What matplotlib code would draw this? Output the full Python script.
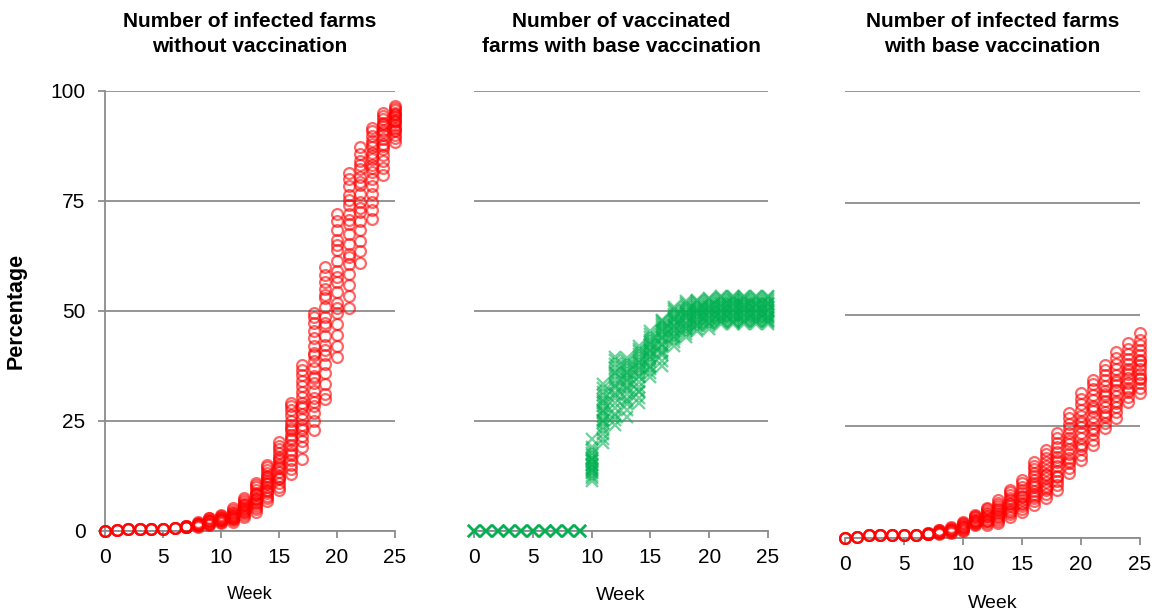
"""Weekly simulation results: infected / vaccinated farms, three panels."""
import matplotlib as mpl

mpl.use("Agg")
import matplotlib.pyplot as plt

plt.rcParams["font.family"] = ["Liberation Sans", "DejaVu Sans"]

WEEKS = list(range(26))
TITLES = [
    "Number of infected farms\nwithout vaccination",
    "Number of vaccinated\nfarms with base vaccination",
    "Number of infected farms\nwith base vaccination",
]
Y_TICKS = [0, 25, 50, 75, 100]
X_TICKS = [0, 5, 10, 15, 20, 25]

# Percentages per week, one list of simulation runs per week
infected_no_vacc = [
    [0, 0, 0, 0],
    [0.2, 0.2, 0.2, 0.2],
    [0.5, 0.5, 0.5, 0.5],
    [0.5, 0.5, 0.5, 0.5],
    [0.5, 0.5, 0.5, 0.5],
    [0.5, 0.5, 0.5, 0.5],
    [0.6, 0.6, 0.7, 0.7],
    [0.8, 0.9, 1.0, 1.0, 1.1, 1.2, 0.9, 1.1],
    [1.0, 1.2, 1.3, 1.5, 1.6, 1.8, 2.0, 1.4, 1.7],
    [1.3, 1.5, 1.7, 2.0, 2.2, 2.4, 2.6, 2.9, 3.0, 1.9, 2.3],
    [1.8, 2.0, 2.2, 2.4, 2.6, 2.8, 3.0, 3.2, 3.5, 3.7, 2.5, 2.9],
    [2.1, 2.4, 2.7, 3.0, 3.3, 3.5, 3.8, 4.1, 4.4, 4.8, 5.2, 3.1, 3.6, 2.9],
    [3.2, 3.6, 4.0, 4.3, 4.7, 5.0, 5.4, 5.8, 6.2, 6.6, 7.1, 7.5, 4.5, 5.2, 6.0],
    [4.4, 4.9, 5.5, 6.0, 6.5, 7.0, 7.6, 8.1, 8.7, 9.3, 9.9, 10.4, 10.9, 6.3,
     7.3, 8.4],
    [6.8, 7.4, 8.0, 8.7, 9.3, 10.0, 10.6, 11.3, 11.9, 12.6, 13.2, 13.9, 14.5,
     14.9, 9.0, 10.9, 12.2],
    [9.3, 10.1, 10.9, 11.8, 12.6, 13.5, 14.3, 15.2, 16.0, 16.9, 17.7, 18.6,
     19.4, 20.3, 12.1, 14.7, 16.4],
    [13.0, 14.0, 15.1, 16.2, 17.3, 18.4, 19.5, 20.6, 21.8, 22.9, 24.0, 25.1,
     26.3, 27.4, 28.4, 29.0, 17.8, 21.2, 23.5],
    [16.4, 19.2, 20.5, 21.7, 22.9, 24.2, 25.4, 26.7, 27.9, 29.1, 30.4, 31.6,
     32.9, 34.1, 35.4, 36.6, 37.8, 23.5, 28.3],
    [22.9, 25.1, 26.8, 28.5, 30.2, 31.9, 33.6, 35.3, 37.0, 38.7, 40.4, 42.1,
     43.8, 45.5, 47.2, 48.6, 49.6, 29.4, 34.8, 39.9],
    [30.0, 31.2, 33.5, 35.8, 38.0, 40.1, 42.3, 44.4, 46.5, 48.7, 50.8, 52.9,
     55.1, 56.7, 58.2, 60.0, 41.2, 47.3, 53.6],
    [39.5, 42.0, 44.6, 47.1, 49.5, 51.9, 54.3, 56.7, 59.0, 61.4, 63.8, 66.1,
     68.5, 70.4, 72.0, 50.6, 57.8, 64.9],
    [50.6, 53.4, 55.9, 58.3, 60.7, 63.0, 65.3, 67.6, 69.8, 72.0, 74.1, 76.3,
     78.4, 80.1, 81.4, 62.2, 70.6, 75.2],
    [61.0, 63.6, 66.0, 68.3, 70.5, 72.6, 74.7, 76.7, 78.6, 80.5, 82.3, 84.0,
     85.7, 87.3, 73.5, 79.4, 83.1],
    [71.0, 72.9, 74.8, 76.6, 78.3, 80.0, 81.6, 83.1, 84.6, 86.0, 87.3, 88.6,
     89.8, 90.8, 91.6, 82.4, 85.3, 88.0],
    [81.0, 82.6, 84.1, 85.5, 86.8, 88.0, 89.1, 90.1, 91.1, 92.0, 92.8, 93.6,
     94.3, 95.0, 87.5, 90.6, 92.4],
    [88.4, 89.3, 90.1, 90.9, 91.6, 92.3, 92.9, 93.5, 94.1, 94.6, 95.1, 95.6,
     96.1, 96.5, 91.2, 93.2, 94.8],
]

vaccinated_base = [
    [0, 0, 0, 0, 0],
    [0, 0, 0, 0, 0],
    [0, 0, 0, 0, 0],
    [0, 0, 0, 0, 0],
    [0, 0, 0, 0, 0],
    [0, 0, 0, 0, 0],
    [0, 0, 0, 0, 0],
    [0, 0, 0, 0, 0],
    [0, 0, 0, 0, 0],
    [0, 0, 0, 0, 0],
    [11.4, 12.0, 12.6, 13.1, 13.5, 14.0, 14.4, 14.9, 15.3, 15.8, 16.2, 16.7,
     17.2, 17.8, 18.5, 19.2, 21.0, 13.8, 15.1, 16.4],
    [20.0, 21.0, 22.0, 22.9, 23.7, 24.5, 25.3, 26.1, 26.9, 27.6, 28.4, 29.2,
     30.0, 30.8, 31.7, 32.6, 33.4, 25.0, 27.2, 29.6],
    [24.0, 25.3, 26.7, 28.0, 29.2, 30.3, 31.4, 32.4, 33.4, 34.4, 35.3, 36.2,
     37.1, 38.0, 38.8, 39.6, 30.8, 33.0, 35.8, 26.2],
    [26.0, 27.4, 28.8, 30.0, 31.1, 32.1, 33.0, 33.9, 34.7, 35.5, 36.2, 36.9,
     37.5, 38.1, 38.7, 39.3, 32.6, 34.4, 36.0, 29.5],
    [29.0, 30.3, 31.6, 32.8, 33.9, 34.9, 35.8, 36.6, 37.4, 38.1, 38.8, 39.5,
     40.2, 40.8, 41.4, 42.0, 35.2, 37.0, 38.5, 31.9],
    [35.0, 35.9, 36.8, 37.6, 38.4, 39.1, 39.8, 40.5, 41.1, 41.7, 42.3, 42.9,
     43.5, 44.1, 44.8, 45.4, 39.5, 41.0, 42.6, 37.2],
    [37.4, 38.7, 39.9, 40.9, 41.8, 42.6, 43.3, 44.0, 44.6, 45.2, 45.8, 46.3,
     46.8, 47.3, 47.7, 48.0, 42.2, 43.8, 45.4, 40.4],
    [42.0, 42.9, 43.7, 44.4, 45.1, 45.7, 46.3, 46.9, 47.4, 47.9, 48.4, 48.9,
     49.4, 49.9, 50.5, 51.0, 45.4, 46.6, 48.1, 44.0],
    [44.0, 44.8, 45.5, 46.1, 46.7, 47.3, 47.8, 48.3, 48.8, 49.3, 49.8, 50.3,
     50.8, 51.3, 51.8, 52.2, 47.0, 48.6, 49.6, 45.8],
    [45.4, 46.0, 46.6, 47.1, 47.6, 48.1, 48.6, 49.1, 49.6, 50.0, 50.5, 50.9,
     51.4, 51.8, 52.2, 52.6, 47.9, 49.3, 50.2, 46.8],
    [46.0, 46.6, 47.1, 47.6, 48.1, 48.6, 49.1, 49.6, 50.1, 50.5, 51.0, 51.4,
     51.9, 52.3, 52.7, 53.0, 48.4, 49.8, 50.8, 47.3],
    [47.0, 47.4, 47.9, 48.3, 48.8, 49.2, 49.7, 50.1, 50.6, 51.0, 51.5, 51.9,
     52.3, 52.7, 53.1, 53.4, 48.6, 50.0, 51.2, 47.7],
    [47.0, 47.5, 47.9, 48.4, 48.8, 49.3, 49.7, 50.2, 50.6, 51.1, 51.5, 52.0,
     52.4, 52.8, 53.1, 53.4, 48.9, 50.3, 51.7, 47.6],
    [47.1, 47.5, 48.0, 48.4, 48.9, 49.3, 49.8, 50.2, 50.7, 51.1, 51.6, 52.0,
     52.4, 52.8, 53.1, 53.4, 49.0, 50.4, 51.4, 47.8],
    [47.0, 47.5, 47.9, 48.4, 48.8, 49.3, 49.7, 50.2, 50.6, 51.1, 51.5, 51.9,
     52.3, 52.7, 53.1, 53.4, 48.7, 50.0, 51.3, 47.7],
    [47.0, 47.4, 47.9, 48.3, 48.8, 49.2, 49.7, 50.1, 50.6, 51.0, 51.5, 51.9,
     52.3, 52.7, 53.1, 53.4, 48.6, 50.2, 51.6, 47.8],
]

infected_base = [
    [0, 0, 0, 0],
    [0.2, 0.2, 0.2, 0.2],
    [0.6, 0.6, 0.6, 0.6],
    [0.6, 0.6, 0.6, 0.6],
    [0.6, 0.6, 0.6, 0.6],
    [0.6, 0.6, 0.6, 0.6],
    [0.6, 0.6, 0.7, 0.7],
    [0.8, 0.9, 1.0, 1.1, 1.2, 1.0, 0.9],
    [1.0, 1.1, 1.2, 1.4, 1.5, 1.7, 1.8, 1.3],
    [1.2, 1.4, 1.6, 1.8, 1.9, 2.1, 2.3, 2.5, 1.7],
    [1.5, 1.8, 2.0, 2.2, 2.5, 2.7, 2.9, 3.2, 3.4, 3.6, 2.4],
    [2.9, 3.1, 3.4, 3.6, 3.9, 4.1, 4.4, 4.6, 4.9, 5.2, 3.5, 4.0],
    [2.9, 3.3, 3.7, 4.1, 4.5, 4.9, 5.3, 5.7, 6.1, 6.4, 6.7, 3.9, 5.0],
    [3.3, 3.8, 4.3, 4.9, 5.4, 5.9, 6.4, 6.9, 7.4, 7.9, 8.5, 4.7, 6.2],
    [4.7, 5.3, 5.9, 6.5, 7.1, 7.8, 8.4, 9.0, 9.6, 10.2, 10.8, 6.0, 7.5],
    [5.8, 6.5, 7.2, 7.9, 8.6, 9.3, 10.0, 10.8, 11.5, 12.2, 12.9, 7.6, 9.2],
    [7.4, 8.2, 9.0, 9.8, 10.6, 11.4, 12.2, 13.0, 13.8, 14.6, 15.4, 16.2, 16.9,
     9.5, 11.8],
    [8.9, 9.8, 10.7, 11.6, 12.5, 13.4, 14.3, 15.2, 16.1, 17.0, 17.9, 18.8,
     19.7, 11.2, 14.0],
    [10.7, 11.8, 12.8, 13.9, 14.9, 16.0, 17.1, 18.1, 19.2, 20.3, 21.3, 22.4,
     23.5, 13.6, 17.5],
    [14.5, 15.6, 16.7, 17.8, 18.9, 20.0, 21.1, 22.3, 23.4, 24.5, 25.6, 26.8,
     27.9, 17.3, 21.6],
    [17.4, 18.6, 19.9, 21.1, 22.4, 23.6, 24.9, 26.2, 27.4, 28.7, 29.9, 31.2,
     32.4, 20.5, 25.8],
    [20.8, 22.0, 23.3, 24.5, 25.8, 27.0, 28.3, 29.6, 30.8, 32.1, 33.3, 34.4,
     35.4, 24.1, 29.0],
    [24.6, 25.8, 27.0, 28.2, 29.4, 30.6, 31.8, 32.9, 34.1, 35.3, 36.5, 37.6,
     38.7, 27.5, 32.3],
    [26.8, 28.1, 29.4, 30.6, 31.8, 33.0, 34.2, 35.3, 36.5, 37.7, 38.9, 40.2,
     41.6, 30.2, 34.8],
    [30.4, 31.5, 32.6, 33.6, 34.7, 35.8, 36.8, 37.9, 38.9, 40.0, 41.1, 42.3,
     43.6, 33.1, 37.4],
    [32.4, 33.5, 34.6, 35.7, 36.7, 37.8, 38.8, 39.9, 40.9, 42.0, 43.1, 44.4,
     45.9, 35.6, 39.5],
]

RED = "#ff0000"
GREEN = "#00b050"
GRID = "#8c8c8c"
NARROW = ["Liberation Sans Narrow", "Liberation Sans"]


def _flatten(runs):
    xs, ys = [], []
    for week, vals in zip(WEEKS, runs):
        xs.extend([week] * len(vals))
        ys.extend(vals)
    return xs, ys


fig = plt.figure(figsize=(11.56, 6.15), dpi=100)
ax1 = fig.add_axes([105 / 1156, 1 - 531 / 615, 290 / 1156, 440 / 615])
ax2 = fig.add_axes([474 / 1156, 1 - 531 / 615, 294 / 1156, 440 / 615])
ax3 = fig.add_axes([845 / 1156, 1 - 538 / 615, 295 / 1156, 447 / 615])

panels = [
    (ax1, infected_no_vacc, "o", RED),
    (ax2, vaccinated_base, "x", GREEN),
    (ax3, infected_base, "o", RED),
]

for i, (ax, runs, marker, color) in enumerate(panels):
    xs, ys = _flatten(runs)
    if marker == "o":
        ax.plot(xs, ys, linestyle="none", marker="o", markersize=7.8,
                markerfacecolor="none", markeredgecolor=color,
                markeredgewidth=1.6, alpha=0.6, clip_on=False, zorder=3)
    else:
        ax.plot(xs, ys, linestyle="none", marker="x", markersize=8.5,
                markeredgecolor=color, markeredgewidth=1.7, alpha=0.55,
                clip_on=False, zorder=3)

    ax.set_xlim(0, 25)
    ax.set_ylim(0, 100)
    ax.set_xticks(X_TICKS)
    ax.set_yticks(Y_TICKS)
    ax.grid(axis="y", color=GRID, linewidth=1.3)
    ax.set_axisbelow(True)
    for side in ("top", "right"):
        ax.spines[side].set_visible(False)
    ax.spines["bottom"].set_color(GRID)
    ax.spines["bottom"].set_linewidth(1.3)
    ax.tick_params(axis="x", colors=GRID, length=5, width=1.3, pad=7,
                   labelcolor="black", labelsize=15)
    if i == 0:
        ax.spines["left"].set_color(GRID)
        ax.spines["left"].set_linewidth(1.3)
        ax.tick_params(axis="y", colors=GRID, length=5, width=1.3, pad=9,
                       labelcolor="black", labelsize=15)
    else:
        ax.spines["left"].set_visible(False)
        ax.tick_params(axis="y", length=0, labelleft=False)

    ax.set_title(TITLES[i], fontsize=15, fontweight="bold", pad=28,
                 family=NARROW, linespacing=1.4)

ax1.set_xlabel("Week", fontsize=13, labelpad=14, family=NARROW)
ax2.set_xlabel("Week", fontsize=14, labelpad=15, family=NARROW)
ax3.set_xlabel("Week", fontsize=14, labelpad=15, family=NARROW)
ax1.set_ylabel("Percentage", fontsize=15.5, fontweight="bold", labelpad=17,
               family=NARROW)

fig.savefig("out.png", dpi=100)
